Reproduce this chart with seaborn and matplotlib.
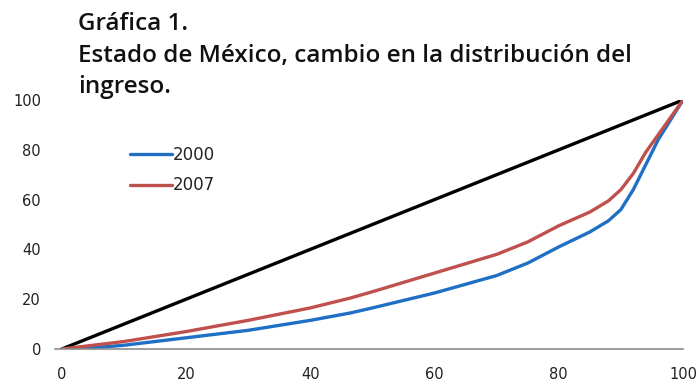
import matplotlib
matplotlib.use("Agg")
import matplotlib.pyplot as plt
import pandas as pd
import seaborn as sns

### data ###
pct_pop = [0, 5, 10, 20, 30, 40, 46.5, 50, 60, 70, 75, 80, 85, 88, 90, 92, 94, 96, 98, 100]
ingreso_2000 = [0, 0.5, 1.5, 4.5, 7.5, 11.5, 14.5, 16.5, 22.5, 29.5, 34.5, 41, 47, 51.5, 56, 64, 74, 84, 92, 100]
ingreso_2007 = [0, 1.5, 3, 7, 11.5, 16.5, 20.5, 23, 30.5, 38, 43, 49.5, 55, 59.5, 64, 70.5, 79, 86, 93, 100]
igualdad_x = [0, 100]
igualdad_y = [0, 100]

xticks = [0, 20, 40, 60, 80, 100]
yticks = [0, 20, 40, 60, 80, 100]

df = pd.DataFrame({
    "x": pct_pop * 2,
    "y": ingreso_2000 + ingreso_2007,
    "serie": ["2000"] * len(pct_pop) + ["2007"] * len(pct_pop),
})

sns.set_style("white")
plt.rcParams["font.family"] = ["DejaVu Sans"]

fig = plt.figure(figsize=(6.99, 3.86), dpi=100)
W, H = 699, 386
ax = fig.add_axes([55 / W, 1 - 349 / H, (683 - 55) / W, (349 - 100) / H])

# diagonal (equality line)
sns.lineplot(x=igualdad_x, y=igualdad_y, color="black", linewidth=2.4, ax=ax, legend=False)

sns.lineplot(data=df, x="x", y="y", hue="serie",
             palette={"2000": "#1f6fc4", "2007": "#c0504d"},
             linewidth=2.4, ax=ax)

### format ###
ax.set_xlim(-1.1, 100)
ax.set_ylim(0, 100)
ax.set_xticks(xticks)
ax.set_yticks(yticks)
ax.set_xlabel("")
ax.set_ylabel("")

for s in ["top", "right", "left"]:
    ax.spines[s].set_visible(False)
ax.spines["bottom"].set_color("#8c8c8c")
ax.spines["bottom"].set_linewidth(1.2)

# x labels sit right at the bottom edge (as in the original), kept inside the canvas
ax.tick_params(axis="x", length=4, width=1.2, color="#8c8c8c", direction="out",
               pad=9, labelsize=10.5, labelcolor="#222222")
ax.tick_params(axis="y", length=0, pad=10, labelsize=10.5, labelcolor="#222222")
ax.xaxis.get_major_ticks()[0].tick1line.set_visible(False)

leg = ax.legend(loc="upper left", bbox_to_anchor=(130 / W, 1 - 146 / H),
                bbox_transform=fig.transFigure, frameon=False,
                handlelength=2.5, handletextpad=0.05, labelspacing=0.75,
                borderpad=0, borderaxespad=0, fontsize=12)
for t in leg.get_texts():
    t.set_color("#222222")

### title ###
title_lines = ["Gráfica 1.",
               "Estado de México, cambio en la distribución del",
               "ingreso."]
baselines = [30, 62, 93]
for txt, b in zip(title_lines, baselines):
    fig.text(78 / W, 1 - b / H, txt, ha="left", va="baseline",
             fontsize=17.5, fontweight="semibold", family="Open Sans", color="#111111")

fig.savefig("out.png", dpi=100)
